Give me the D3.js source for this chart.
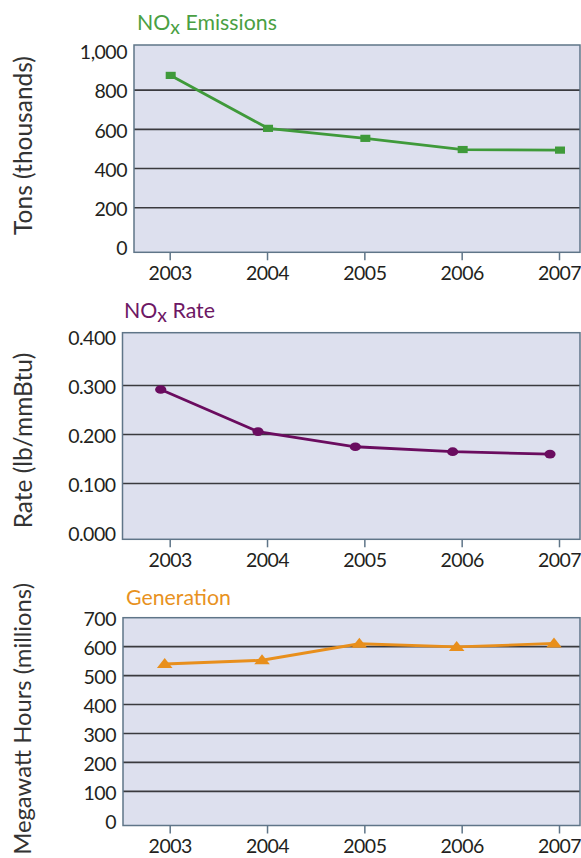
<!DOCTYPE html>
<html><head><meta charset="utf-8">
<script src="https://cdn.jsdelivr.net/npm/d3@7"></script>
<style>
body{margin:0;background:#fff;}
svg{display:block;}
text{font-family:Lato,"Noto Sans",sans-serif;}
</style>
</head><body>
<svg id="chart" width="581" height="858"></svg>
<script>
// ---- data ----
const years = [2003, 2004, 2005, 2006, 2007];
const noxEmissions = [875, 605, 554, 497, 494];          // thousand tons
const noxRate = [0.292, 0.206, 0.175, 0.165, 0.160];     // lb/mmBtu
const generation = [540, 553, 610, 599, 611];            // million MWh
const emissionsTicks = [0, 200, 400, 600, 800, 1000];
const rateTicks = [0, 0.1, 0.2, 0.3, 0.4];
const generationTicks = [0, 100, 200, 300, 400, 500, 600, 700];
const yearLabels = ["2003", "2004", "2005", "2006", "2007"];

// ---- layout / style ----
const svg = d3.select("#chart");
const W = 580;
const x = d3.scaleLinear().domain([2003, 2007]).range([169.7, 559]);

const panels = [
  { title: ["NO", "X", " Emissions"], color: "#3f9a3a", titleColor: "#4a9f43",
    values: noxEmissions, ticks: emissionsTicks, fmt: d3.format(","),
    left: 134, top: 45, bottom: 252.3, domain: [-27, 1030], grid: [200, 400, 600, 800],
    titleX: 137, titleY: 30, axisTitle: "Tons (thousands)", atX: 32, atY: 145.5, atAnchor: "middle", atSize: 24.5,
    marker: "rect", shift: 1 },
  { title: ["NO", "X", " Rate"], color: "#6a0c5f", titleColor: "#6d1764",
    values: noxRate, ticks: rateTicks, fmt: d3.format(".3f"),
    left: 122.5, top: 332.7, bottom: 539.3, domain: [-0.014, 0.408], grid: [0.1, 0.2, 0.3],
    titleX: 124, titleY: 318, axisTitle: "Rate (lb/mmBtu)", atX: 32, atY: 440.5, atAnchor: "middle", atSize: 24.5,
    marker: "circle", shift: -9 },
  { title: ["Generation"], color: "#e88f1c", titleColor: "#e8921f",
    values: generation, ticks: generationTicks, fmt: d3.format("d"),
    left: 123, top: 617.7, bottom: 825.5, domain: [-18, 700], grid: [100, 200, 300, 400, 500, 600],
    titleX: 126, titleY: 605, axisTitle: "Megawatt Hours (millions)", atX: 31, atY: 583, atAnchor: "end", atSize: 23.8,
    marker: "triangle", shift: -5 }
];

panels.forEach(p => {
  const y = d3.scaleLinear().domain(p.domain).range([p.bottom, p.top]);
  const g = svg.append("g");

  // plot background
  g.append("rect").attr("x", p.left).attr("y", p.top)
    .attr("width", W - p.left).attr("height", p.bottom - p.top)
    .attr("fill", "#dde0ee");

  // gridlines
  g.selectAll("line.grid").data(p.grid).enter().append("line")
    .attr("x1", p.left).attr("x2", W)
    .attr("y1", d => y(d)).attr("y2", d => y(d))
    .attr("stroke", "#3a3a3e").attr("stroke-width", 1.6);

  // frame
  g.append("rect").attr("x", p.left).attr("y", p.top)
    .attr("width", W - p.left).attr("height", p.bottom - p.top)
    .attr("fill", "none").attr("stroke", "#5f7588").attr("stroke-width", 1.5);

  // x axis ticks
  const xa = g.append("g").attr("transform", `translate(0,${p.bottom})`)
    .call(d3.axisBottom(x).tickValues(years).tickSize(8).tickPadding(6)
      .tickFormat((d, i) => yearLabels[i]));
  xa.select(".domain").remove();
  xa.selectAll(".tick line").attr("stroke", "#5f7588").attr("stroke-width", 1.5);
  xa.selectAll(".tick text").attr("font-size", 19.5).attr("fill", "#231f20")
    .attr("font-family", "Lato, sans-serif").attr("letter-spacing", "-0.5");

  // y axis labels
  const ya = g.append("g").attr("transform", `translate(${p.left},0)`)
    .call(d3.axisLeft(y).tickValues(p.ticks).tickSize(0).tickPadding(7).tickFormat(p.fmt));
  ya.select(".domain").remove();
  ya.selectAll(".tick text").attr("font-size", 19.5).attr("fill", "#231f20")
    .attr("font-family", "Lato, sans-serif").attr("letter-spacing", "-0.5").attr("dy", "0.4em");

  // title
  const t = g.append("text").attr("x", p.titleX).attr("y", p.titleY)
    .attr("font-size", 21.3).attr("fill", p.titleColor);
  if (p.title.length === 3) {
    t.append("tspan").text(p.title[0]);
    t.append("tspan").attr("dy", 3.5).attr("font-size", 19.5).text("x");
    t.append("tspan").attr("dy", -3.5).text(p.title[2]);
  } else {
    t.text(p.title[0]);
  }

  // axis title
  g.append("text").attr("transform", `translate(${p.atX},${p.atY}) rotate(-90)`)
    .attr("text-anchor", p.atAnchor).attr("font-size", p.atSize).attr("fill", "#333")
    .text(p.axisTitle);

  // line
  const pts = years.map((yr, i) => [x(yr) + p.shift, y(p.values[i])]);
  g.append("path").attr("d", d3.line()(pts))
    .attr("fill", "none").attr("stroke", p.color).attr("stroke-width", 2.8);

  // markers
  const m = g.selectAll("g.mk").data(pts).enter().append("g")
    .attr("transform", d => `translate(${d[0]},${d[1]})`);
  if (p.marker === "rect") {
    m.append("rect").attr("x", -5).attr("y", -3.6).attr("width", 10).attr("height", 7.2)
      .attr("fill", p.color);
  } else if (p.marker === "circle") {
    m.append("ellipse").attr("rx", 5.6).attr("ry", 4.3).attr("fill", p.color);
  } else {
    m.append("path").attr("d", d3.line()([[-7.8, 4], [7.8, 4], [0, -6]]) + "Z")
      .attr("fill", p.color);
  }
});
</script>
</body></html>
